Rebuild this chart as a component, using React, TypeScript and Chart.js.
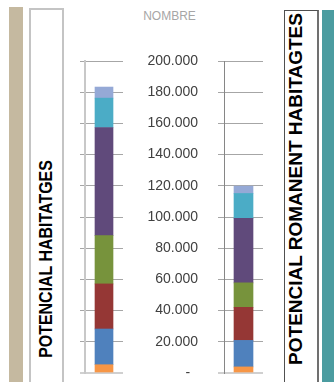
import React, { useEffect, useRef } from "react";
import { Chart, registerables } from "chart.js";

Chart.register(...registerables);

// ---- data ----
const categories = ["POTENCIAL HABITATGES", "POTENCIAL ROMANENT HABITAGTES"];
const axisTitle = "NOMBRE";
const seriesNames = ["Sèrie 1", "Sèrie 2", "Sèrie 3", "Sèrie 4", "Sèrie 5", "Sèrie 6", "Sèrie 7"];
const serie1 = [5300, 3900];
const serie2 = [22900, 17000];
const serie3 = [28900, 21200];
const serie4 = [31000, 15700];
const serie5 = [69300, 41300];
const serie6 = [18800, 16000];
const serie7 = [7100, 4700];
const yMin = 0;
const yMax = 200000;
const yStep = 20000;

const seriesValues = [serie1, serie2, serie3, serie4, serie5, serie6, serie7];
const seriesColors = ["#f79646", "#4f81bd", "#953735", "#77933c", "#604a7b", "#4bacc6", "#95a9d6"];

const FONT = "'Liberation Sans', Arial, sans-serif";

function fmt(v: number): string {
  if (v === 0) return "-  ";
  return String(Math.round(v)).replace(/\B(?=(\d{3})+(?!\d))/g, ".");
}

type BarProps = {
  index: number;
  left: number;
  width: number;
  showLabels: boolean;
  axisWidth: number;
  tickLength: number;
  barThickness: number;
  borderColor: string;
  borderWidth: number;
  padLeft: number;
};

function StackedBar(p: BarProps) {
  const ref = useRef<HTMLCanvasElement | null>(null);
  useEffect(() => {
    if (!ref.current) return;
    const chart = new Chart(ref.current, {
      type: "bar",
      data: {
        labels: [categories[p.index]],
        datasets: seriesValues.map((vals, i) => ({
          label: seriesNames[i],
          data: [vals[p.index]],
          backgroundColor: seriesColors[i],
          borderWidth: 0,
          barThickness: p.barThickness,
        })),
      },
      options: {
        animation: false,
        responsive: false,
        maintainAspectRatio: false,
        layout: { padding: { top: 61, bottom: 9, left: p.padLeft, right: 2 } },
        plugins: { legend: { display: false }, tooltip: { enabled: false }, title: { display: false } },
        scales: {
          x: { display: false, stacked: true },
          y: {
            stacked: true,
            min: yMin,
            max: yMax,
            position: "left",
            afterFit: (scale: any) => {
              scale.width = p.axisWidth;
              scale.paddingTop = 0;
              scale.paddingBottom = 0;
            },
            ticks: {
              display: p.showLabels,
              stepSize: yStep,
              padding: 20,
              color: "#404040",
              font: { family: FONT, size: 14 },
              callback: (v: any) => fmt(Number(v)),
            },
            grid: {
              color: (c: any) => (c.tick && c.tick.value === 0 ? "#d0d0d0" : "#a6a6a6"),
              lineWidth: (c: any) => (c.tick && c.tick.value === 0 ? 2 : 1),
              tickLength: p.tickLength,
              drawTicks: true,
            },
            border: { color: p.borderColor, width: p.borderWidth },
          },
        },
      },
    });
    return () => chart.destroy();
  }, []);
  return (
    <canvas
      ref={ref}
      width={p.width}
      height={382}
      style={{ position: "absolute", left: p.left, top: 0, width: p.width, height: 382, display: "block" }}
    />
  );
}

function VText(props: { text: string; cx: number; cy: number; size: number; scale: number }) {
  return (
    <div
      style={{
        position: "absolute",
        left: props.cx,
        top: props.cy,
        transform: `translate(-50%, -50%) rotate(-90deg) scaleX(${props.scale})`,
        whiteSpace: "nowrap",
        fontFamily: FONT,
        fontWeight: "bold",
        fontSize: props.size,
        lineHeight: 1,
        color: "#000",
      }}
    >
      {props.text}
    </div>
  );
}

export default function App() {
  return (
    <div
      style={{
        position: "absolute",
        left: 0,
        top: 0,
        width: 334,
        height: 382,
        overflow: "hidden",
        background: "#fff",
      }}
    >
      {/* left decorations */}
      <div style={{ position: "absolute", left: 9, top: 7, width: 14, height: 400, background: "#c5b9a0" }} />
      <div
        style={{
          position: "absolute",
          left: 29,
          top: 8,
          width: 31,
          height: 400,
          border: "2px solid #c4c4c4",
          boxSizing: "content-box",
        }}
      />
      <VText text={categories[0]} cx={45} cy={259} size={19} scale={0.84} />

      {/* right decorations */}
      <div
        style={{
          position: "absolute",
          left: 284,
          top: 10,
          width: 32,
          height: 400,
          borderLeft: "1px solid #505050",
          borderTop: "1px solid #505050",
          borderRight: "2px solid #707070",
        }}
      />
      <div style={{ position: "absolute", left: 322, top: 10, width: 14, height: 400, background: "#4b9ca0" }} />
      <VText text={categories[1]} cx={295.3} cy={189} size={19} scale={1} />

      {/* title */}
      <div
        style={{
          position: "absolute",
          left: 169.5,
          top: 10,
          transform: "translateX(-50%)",
          fontFamily: FONT,
          fontSize: 12,
          lineHeight: 1,
          color: "#a6a6a6",
          whiteSpace: "nowrap",
        }}
      >
        {axisTitle}
      </div>

      <StackedBar
        index={0}
        left={75}
        width={50}
        showLabels={false}
        axisWidth={5}
        tickLength={5}
        barThickness={18}
        borderColor="#c8c8c8"
        borderWidth={2}
        padLeft={5}
      />
      <StackedBar
        index={1}
        left={140}
        width={125}
        showLabels={true}
        axisWidth={84}
        tickLength={6}
        barThickness={19}
        borderColor="#868686"
        borderWidth={1}
        padLeft={0}
      />
    </div>
  );
}
